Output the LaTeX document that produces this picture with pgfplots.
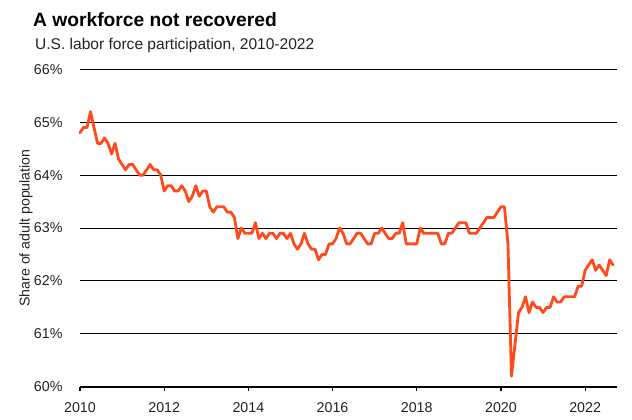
\documentclass[border=0pt]{standalone}
\usepackage{pgfplots}
\pgfplotsset{compat=1.18}
\usepackage{pgfplotstable}
\usepackage{fontspec}
\setmainfont{Liberation Sans}
\definecolor{lineorange}{HTML}{FF4A1C}
\definecolor{txt}{HTML}{222222}

\pgfplotstableread{
x y
2010.000 64.8
2010.083 64.9
2010.167 64.9
2010.250 65.2
2010.333 64.9
2010.417 64.6
2010.500 64.6
2010.583 64.7
2010.667 64.6
2010.750 64.4
2010.833 64.6
2010.917 64.3
2011.000 64.2
2011.083 64.1
2011.167 64.2
2011.250 64.2
2011.333 64.1
2011.417 64.0
2011.500 64.0
2011.583 64.1
2011.667 64.2
2011.750 64.1
2011.833 64.1
2011.917 64.0
2012.000 63.7
2012.083 63.8
2012.167 63.8
2012.250 63.7
2012.333 63.7
2012.417 63.8
2012.500 63.7
2012.583 63.5
2012.667 63.6
2012.750 63.8
2012.833 63.6
2012.917 63.7
2013.000 63.7
2013.083 63.4
2013.167 63.3
2013.250 63.4
2013.333 63.4
2013.417 63.4
2013.500 63.3
2013.583 63.3
2013.667 63.2
2013.750 62.8
2013.833 63.0
2013.917 62.9
2014.000 62.9
2014.083 62.9
2014.167 63.1
2014.250 62.8
2014.333 62.9
2014.417 62.8
2014.500 62.9
2014.583 62.9
2014.667 62.8
2014.750 62.9
2014.833 62.9
2014.917 62.8
2015.000 62.9
2015.083 62.7
2015.167 62.6
2015.250 62.7
2015.333 62.9
2015.417 62.7
2015.500 62.6
2015.583 62.6
2015.667 62.4
2015.750 62.5
2015.833 62.5
2015.917 62.7
2016.000 62.7
2016.083 62.8
2016.167 63.0
2016.250 62.9
2016.333 62.7
2016.417 62.7
2016.500 62.8
2016.583 62.9
2016.667 62.9
2016.750 62.8
2016.833 62.7
2016.917 62.7
2017.000 62.9
2017.083 62.9
2017.167 63.0
2017.250 62.9
2017.333 62.8
2017.417 62.8
2017.500 62.9
2017.583 62.9
2017.667 63.1
2017.750 62.7
2017.833 62.7
2017.917 62.7
2018.000 62.7
2018.083 63.0
2018.167 62.9
2018.250 62.9
2018.333 62.9
2018.417 62.9
2018.500 62.9
2018.583 62.7
2018.667 62.7
2018.750 62.9
2018.833 62.9
2018.917 63.0
2019.000 63.1
2019.083 63.1
2019.167 63.1
2019.250 62.9
2019.333 62.9
2019.417 62.9
2019.500 63.0
2019.583 63.1
2019.667 63.2
2019.750 63.2
2019.833 63.2
2019.917 63.3
2020.000 63.4
2020.083 63.4
2020.167 62.7
2020.250 60.2
2020.333 60.8
2020.417 61.4
2020.500 61.5
2020.583 61.7
2020.667 61.4
2020.750 61.6
2020.833 61.5
2020.917 61.5
2021.000 61.4
2021.083 61.5
2021.167 61.5
2021.250 61.7
2021.333 61.6
2021.417 61.6
2021.500 61.7
2021.583 61.7
2021.667 61.7
2021.750 61.7
2021.833 61.9
2021.917 61.9
2022.000 62.2
2022.083 62.3
2022.167 62.4
2022.250 62.2
2022.333 62.3
2022.417 62.2
2022.500 62.1
2022.583 62.4
2022.667 62.3
}\lfpr

\begin{document}
\begin{tikzpicture}
\path[use as bounding box] (0,0) rectangle (632bp,420bp);
\begin{axis}[
  at={(80bp,33.3bp)}, anchor=south west,
  scale only axis,
  width=536.7bp, height=317.4bp,
  xmin=2010, xmax=2022.75,
  ymin=60, ymax=66,
  axis lines*=left,
  x axis line style={line width=1.6bp, black, -},
  y axis line style={draw=none},
  xtick={2010,2012,...,2022},
  xticklabels={2010,2012,2014,2016,2018,2020,2022},
  ytick={60,61,...,66},
  yticklabels={60\%,61\%,62\%,63\%,64\%,65\%,66\%},
  xtick style={black, line width=1.2bp},
  ytick style={draw=none},
  major tick length=4bp,
  tick align=outside,
  ymajorgrids,
  grid style={black, line width=0.9bp},
  ticklabel style={font=\fontsize{14.3}{16}\selectfont, text=txt},
  xticklabel style={anchor=north, inner sep=0pt, yshift=-11.5bp},
  yticklabel style={anchor=east, inner sep=0pt, xshift=-13.3bp},
  clip=false,
]
\addplot[lineorange, line width=2.8bp, line join=round, line cap=round] table[x=x,y=y] {\lfpr};
\end{axis}
\node[anchor=base west, inner sep=0pt, text=black, font=\fontsize{19.3}{22}\selectfont\bfseries] at (33bp,393.3bp) {A workforce not recovered};
\node[anchor=base west, inner sep=0pt, text=txt, font=\fontsize{15.6}{18}\selectfont] at (35bp,370bp) {U.S. labor force participation, 2010-2022};
\node[rotate=90, anchor=center, inner sep=0pt, text=txt, font=\fontsize{14.2}{16}\selectfont] at (26bp,192bp) {Share of adult population};
\end{tikzpicture}
\end{document}
